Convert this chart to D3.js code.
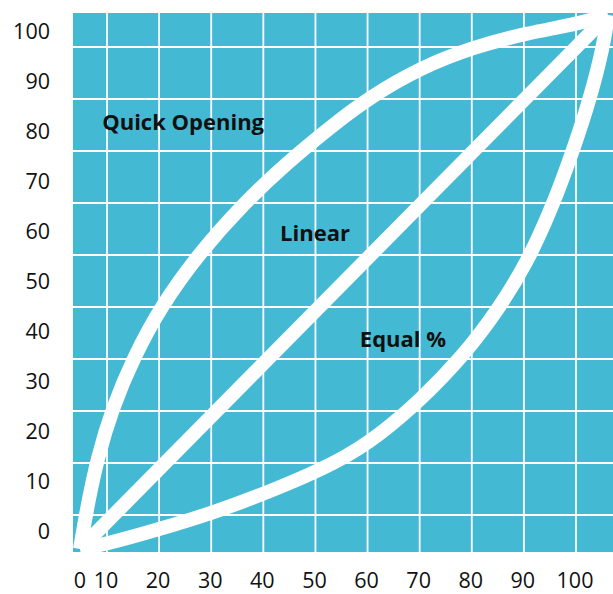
<!DOCTYPE html>
<html>
<head>
<meta charset="utf-8">
<script src="https://cdn.jsdelivr.net/npm/d3@7"></script>
<style>
  body { margin: 0; background: #fff; }
  text { font-family: "Open Sans", "Noto Sans", sans-serif; fill: #111; }
</style>
</head>
<body>
<div id="chart"></div>
<script>
// valve characteristic curves, % travel vs % flow
var linearX = [0, 100];
var linearY = [0, 100];
var quickX = [0, 1.5, 3.3, 6.1, 10.2, 15.5, 22.5, 30.7, 38.9, 48.4, 54.9, 64.4, 74.5, 84.6, 94.1, 100];
var quickY = [0, 8.6, 17, 26.3, 36, 45.7, 55.3, 64.4, 72.1, 79.8, 84.6, 90.1, 94, 96.6, 98.3, 100];
var equalX = [0, 4.8, 14.3, 25, 36.4, 49.2, 56.8, 64.4, 72.6, 78.9, 84.6, 89.6, 93.4, 96.6, 99.1, 100];
var equalY = [0, 0.9, 3.5, 6.7, 10.9, 16.4, 21.4, 27.8, 36.2, 44.4, 53.4, 64.4, 74.7, 84.3, 94, 100];
var yTicks = [0, 10, 20, 30, 40, 50, 60, 70, 80, 90, 100];
var xTicks = [0, 10, 20, 30, 40, 50, 60, 70, 80, 90, 100];
var curveNames = ["Quick Opening", "Linear", "Equal %"];

var svg = d3.select("#chart")
            .append("svg")
            .attr("width", 613)
            .attr("height", 594);

var plot = {left: 73, top: 13, right: 613, bottom: 552};

// scales for the curves
var x = d3.scaleLinear().domain([0, 100]).range([80, 608]);
var y = d3.scaleLinear().domain([0, 100]).range([549, 15]);
// scales for the labels and grid (offset from the curves in the original)
var yLab = d3.scaleLinear().domain([0, 100]).range([531, 31]);
var xLab = d3.scaleLinear().domain([10, 100]).range([106, 575]);
var gridX = d3.scaleLinear().domain([1, 10]).range([107, 576]);
var gridY = d3.scaleLinear().domain([0, 9]).range([515, 47]);

svg.append("clipPath").attr("id", "clip")
  .append("rect")
  .attr("x", plot.left).attr("y", plot.top)
  .attr("width", plot.right - plot.left)
  .attr("height", plot.bottom - plot.top);

svg.append("rect")
  .attr("x", plot.left).attr("y", plot.top)
  .attr("width", plot.right - plot.left)
  .attr("height", plot.bottom - plot.top)
  .style("fill", "#44b9d3");

var g = svg.append("g").attr("clip-path", "url(#clip)");

g.selectAll("line.vx")
  .data(d3.range(1, 11))
  .enter().append("line")
  .attr("x1", function(d) { return gridX(d); })
  .attr("x2", function(d) { return gridX(d); })
  .attr("y1", plot.top).attr("y2", plot.bottom)
  .style("stroke", "#fff").style("stroke-width", 1.8);

g.selectAll("line.hy")
  .data(d3.range(0, 10))
  .enter().append("line")
  .attr("y1", function(d) { return gridY(d); })
  .attr("y2", function(d) { return gridY(d); })
  .attr("x1", plot.left).attr("x2", plot.right)
  .style("stroke", "#fff").style("stroke-width", 1.8);

var line = d3.line()
  .x(function(d) { return x(d[0]); })
  .y(function(d) { return y(d[1]); })
  .curve(d3.curveBasis);

var curves = [d3.zip(quickX, quickY), d3.zip(linearX, linearY), d3.zip(equalX, equalY)];

g.selectAll("path.curve")
  .data(curves)
  .enter().append("path")
  .attr("class", "curve")
  .attr("d", line)
  .style("fill", "none")
  .style("stroke", "#fff")
  .style("stroke-width", 14)
  .style("stroke-linecap", "butt")
  .style("stroke-linejoin", "round");

// tick labels
svg.selectAll("text.ylab")
  .data(yTicks)
  .enter().append("text")
  .attr("x", 50)
  .attr("y", function(d) { return yLab(d); })
  .attr("dy", "0.36em")
  .attr("text-anchor", "end")
  .style("font-size", "21.5px")
  .text(function(d) { return d; });

svg.selectAll("text.xlab")
  .data(xTicks)
  .enter().append("text")
  .attr("x", function(d) { return d === 0 ? x(0) : xLab(d); })
  .attr("y", 588)
  .attr("text-anchor", "middle")
  .style("font-size", "21.5px")
  .text(function(d) { return d; });

// curve names
var namePos = [[4.2, 78.5], [37.9, 57.7], [53, 37.8]];
svg.selectAll("text.name")
  .data(curveNames)
  .enter().append("text")
  .attr("x", function(d, i) { return x(namePos[i][0]); })
  .attr("y", function(d, i) { return y(namePos[i][1]); })
  .style("font-size", "22px")
  .style("font-weight", "700")
  .text(function(d) { return d; });
</script>
</body>
</html>
